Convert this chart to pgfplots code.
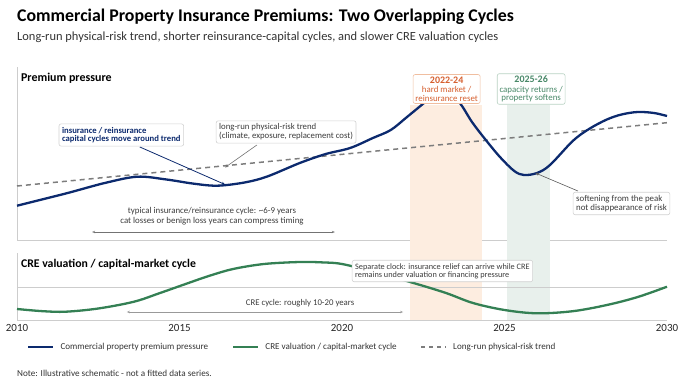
\documentclass[border=0pt]{standalone}
\usepackage{fontspec}
\setmainfont{Carlito}
\usepackage{pgfplots}
\pgfplotsset{compat=1.18}
\usetikzlibrary{arrows.meta}

\definecolor{navy}{RGB}{12,42,110}
\definecolor{cregreen}{RGB}{52,128,84}
\definecolor{trendgray}{RGB}{125,125,125}
\definecolor{hardfill}{RGB}{253,237,224}
\definecolor{softfill}{RGB}{232,240,236}
\definecolor{hardtext}{RGB}{214,96,48}
\definecolor{hardedge}{RGB}{240,190,160}
\definecolor{softtext}{RGB}{72,136,104}
\definecolor{softedge}{RGB}{185,210,195}
\definecolor{axisgray}{RGB}{205,205,205}
\definecolor{boxedge}{RGB}{210,210,210}
\definecolor{notegray}{RGB}{60,60,60}

\newcommand{\fs}[1]{\fontsize{#1}{#1}\selectfont}

\begin{document}
\begin{tikzpicture}
\path[use as bounding box] (0,0) rectangle (695bp,-390bp);

% headings
\node[anchor=west, inner sep=0pt, font=\bfseries\fs{17.9}] at (17bp,-17bp)
  {Commercial Property Insurance Premiums: Two Overlapping Cycles};
\node[anchor=west, inner sep=0pt, font=\fs{12.5}, text=black!80] at (17bp,-37bp)
  {Long-run physical-risk trend, shorter reinsurance-capital cycles, and slower CRE valuation cycles};

% ---------------- premium panel ----------------
\begin{axis}[
  at={(17bp,-240bp)}, anchor=south west,
  scale only axis, width=650bp, height=173bp,
  xmin=2010, xmax=2030, ymin=0, ymax=173,
  axis x line=bottom, axis y line=left,
  axis line style={-, axisgray, line width=0.8bp},
  xtick=\empty, ytick=\empty,
  clip=false,
]
  % market phases, running through both panels
  \fill[hardfill] (axis cs:2022.1,-80) rectangle (axis cs:2024.3,135);
  \fill[softfill] (axis cs:2025.08,-80) rectangle (axis cs:2026.4,135);

  % long-run physical-risk trend
  \addplot[trendgray, line width=1.5bp, dash pattern=on 5bp off 4bp]
    coordinates {(2010,54) (2030,117.3)};

  % premium pressure
  \addplot[navy, line width=2.3bp, smooth, tension=0.55] coordinates {
    (2010.0,34.3) (2011.5,46.5) (2012.7,57) (2013.7,63.3) (2014.6,60.5)
    (2015.4,56.5) (2016.15,54.3) (2017.0,57.5) (2017.7,63.5) (2018.7,77)
    (2019.5,86) (2020.25,92) (2020.95,102) (2021.5,110) (2022.0,123)
    (2022.6,139) (2023.1,152) (2023.6,138) (2024.0,118) (2024.4,101)
    (2024.86,83) (2025.3,69) (2025.6,65) (2026.0,67) (2026.4,75)
    (2027.1,99) (2027.6,111) (2028.15,120.5) (2028.6,125.5) (2029.1,128)
    (2029.6,127) (2030.0,124)
  };

  \node[anchor=west, inner sep=0pt, font=\bfseries\fs{12}] at (axis cs:2010.12,162)
    {Premium pressure};

  % phase labels
  \node[draw=hardedge, fill=white, rounded corners=2bp, text=hardtext,
        align=center, font=\fs{8.9}, inner sep=2.3bp, line width=0.6bp,
        minimum width=67bp] at (axis cs:2023.22,151)
    {{\bfseries\fs{10}2022-24}\\[0.5bp]hard market /\\[-0.5bp]reinsurance reset};
  \node[draw=softedge, fill=white, rounded corners=2bp, text=softtext,
        align=center, font=\fs{8.9}, inner sep=2.3bp, line width=0.6bp,
        minimum width=64bp] at (axis cs:2025.82,151)
    {{\bfseries\fs{10}2025-26}\\[0.5bp]capacity returns /\\[-0.5bp]property softens};

  % callouts
  \draw[navy, line width=0.8bp, -{Stealth[length=3.5bp,width=3bp]}]
    (axis cs:2013.78,93) -- (axis cs:2016.4,55.5);
  \node[draw=boxedge, fill=white, rounded corners=2bp, text=navy,
        align=left, font=\bfseries\fs{8.7}, inner sep=3bp, line width=0.6bp]
    at (axis cs:2013.21,105)
    {insurance / reinsurance\\capital cycles move around trend};

  \draw[black!55, line width=0.6bp, -{Stealth[length=3.5bp,width=3bp]}]
    (axis cs:2017.38,95) -- (axis cs:2016.4,72.5);
  \node[draw=boxedge, fill=white, rounded corners=2bp, text=notegray,
        align=left, font=\fs{8.8}, inner sep=3bp, line width=0.6bp]
    at (axis cs:2018.28,108)
    {long-run physical-risk trend\\(climate, exposure, replacement cost)};

  \draw[black!65, line width=0.6bp, -{Stealth[length=3.5bp,width=3bp]}]
    (axis cs:2027.26,49) -- (axis cs:2025.95,67);
  \node[draw=boxedge, fill=white, rounded corners=2bp, text=notegray,
        align=left, font=\fs{8.9}, inner sep=3bp, line width=0.6bp]
    at (axis cs:2028.6,36.5)
    {softening from the peak\\not disappearance of risk};

  \node[align=center, font=\fs{8.9}, text=notegray, inner sep=0pt]
    at (axis cs:2016.0,24)
    {typical insurance/reinsurance cycle: \textasciitilde6-9 years\\[1bp]cat losses or benign loss years can compress timing};
  \draw[black!55, line width=0.5bp, {Stealth[length=3bp,width=2.5bp,open]}-{Stealth[length=3bp,width=2.5bp,open]}]
    (axis cs:2012.31,8) -- (axis cs:2019.78,8);
\end{axis}

% ---------------- CRE panel ----------------
\begin{axis}[
  at={(17bp,-320bp)}, anchor=south west,
  scale only axis, width=650bp, height=67bp,
  xmin=2010, xmax=2030, ymin=0, ymax=67,
  axis x line=bottom, axis y line=left,
  axis line style={-, axisgray, line width=0.8bp},
  xtick={2010,2015,2020,2025,2030}, ytick=\empty,
  major tick length=0pt,
  /pgf/number format/1000 sep={},
  /pgf/number format/assume math mode=true,
  xticklabel style={font=\fs{11}, text=black!85, yshift=-0.5bp},
  clip=false,
  legend columns=3,
  legend style={at={(0.0154,-0.403)}, anchor=west, draw=none, fill=none,
    inner sep=0pt, font=\fs{9.1}, text=black!80,
    nodes={inner sep=0pt, anchor=west},
    /tikz/every even column/.append style={column sep=24bp},
    /tikz/every odd column/.append style={column sep=6bp}},
  legend image code/.code={\draw[#1] (0bp,0bp) -- (25bp,0bp);},
  legend cell align=left,
]
  \draw[axisgray, line width=0.8bp] (axis cs:2010,33) -- (axis cs:2030,33);

  \addlegendimage{navy, line width=2.3bp}
  \addlegendentry{Commercial property premium pressure}

  % CRE valuation cycle
  \addplot[cregreen, line width=2.3bp, smooth, tension=0.55] coordinates {
    (2010.0,11) (2010.8,8.8) (2011.5,8.3) (2012.5,11.5) (2013.6,18.3)
    (2014.4,27) (2015.1,35) (2015.9,44) (2016.65,51) (2017.6,56)
    (2018.7,58) (2019.4,57.6) (2020.0,56) (2021.0,48) (2022.2,37)
    (2023.2,27) (2024.03,17) (2025.0,10) (2026.0,6.7) (2027.1,8.8)
    (2028.15,15) (2029.1,23) (2030.0,33.3)
  };
  \addlegendentry{CRE valuation / capital-market cycle}

  \addlegendimage{trendgray, line width=1.5bp, dash pattern=on 4bp off 4bp}
  \addlegendentry{Long-run physical-risk trend}

  \node[anchor=west, inner sep=0pt, font=\bfseries\fs{11.8}] at (axis cs:2010.12,56)
    {CRE valuation / capital-market cycle};

  \node[draw=boxedge, fill=white, rounded corners=2bp, text=notegray,
        align=left, font=\fs{8.3}, inner sep=3bp, line width=0.6bp]
    at (axis cs:2023.09,49)
    {Separate clock: insurance relief can arrive while CRE\\remains under valuation or financing pressure};

  \node[font=\fs{8.8}, text=notegray, inner sep=0pt] at (axis cs:2018.71,17)
    {CRE cycle: roughly 10-20 years};
  \draw[black!40, line width=0.5bp, {Stealth[length=3bp,width=2.5bp,open]}-{Stealth[length=3bp,width=2.5bp,open]}]
    (axis cs:2013.38,8) -- (axis cs:2021.88,8);
\end{axis}

\node[anchor=west, inner sep=0pt, font=\fs{9.2}, text=black!80] at (17bp,-373bp)
  {Note: Illustrative schematic - not a fitted data series.};
\end{tikzpicture}
\end{document}
